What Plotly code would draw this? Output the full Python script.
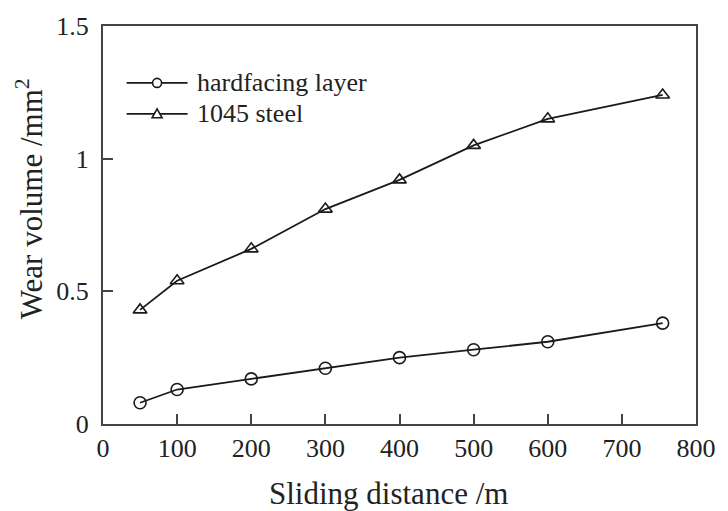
import plotly.graph_objects as go

distance = [50, 100, 200, 300, 400, 500, 600, 755]
hardfacing = [0.08, 0.13, 0.17, 0.21, 0.25, 0.28, 0.31, 0.38]
steel_1045 = [0.43, 0.54, 0.66, 0.81, 0.92, 1.05, 1.15, 1.24]
x_ticks = [0, 100, 200, 300, 400, 500, 600, 700, 800]
y_ticks = [0, 0.5, 1, 1.5]
y_labels = ["0", "0.5", "1", "1.5"]
series_names = ["hardfacing layer", "1045 steel"]

font = "Liberation Serif"
ink = "#1a1a1a"
fig = go.Figure()
fig.add_trace(go.Scatter(x=distance, y=hardfacing, mode="lines+markers", name=series_names[0],
                         line=dict(color=ink, width=1.8),
                         marker=dict(symbol="circle-open", size=12, color=ink, line=dict(width=1.6))))
fig.add_trace(go.Scatter(x=distance, y=steel_1045, mode="lines+markers", name=series_names[1],
                         line=dict(color=ink, width=1.8),
                         marker=dict(symbol="triangle-up-open", size=12, color=ink, line=dict(width=1.6))))

axis_common = dict(showline=True, linecolor="#444", linewidth=2, mirror=True,
                   ticks="inside", ticklen=10, tickwidth=1.5, tickcolor="#444",
                   showgrid=False, zeroline=False, ticklabeloverflow="allow",
                   tickfont=dict(family=font, size=26, color="#222"))
fig.update_xaxes(range=[0, 800], tickvals=x_ticks, **axis_common)
fig.update_yaxes(range=[0, 1.5], tickvals=y_ticks, ticktext=y_labels, ticklabelstandoff=7, **axis_common)

fig.add_annotation(text="Sliding distance /m", xref="paper", yref="paper",
                   x=0.481, y=-0.175, xanchor="center", yanchor="middle",
                   showarrow=False, font=dict(family=font, size=31, color="#222"))
fig.add_annotation(text="Wear volume /mm<sup>2</sup>", xref="paper", yref="paper",
                   x=-0.124, y=0.566, xanchor="center", yanchor="middle", textangle=-90,
                   showarrow=False, font=dict(family=font, size=31, color="#222"))

# legend drawn manually to reproduce the long line samples
leg_y = [0.857, 0.7794]
line_x0, line_x1, mark_x, text_x = 0.0398, 0.1426, 0.0912, 0.1559
for i, name in enumerate(series_names):
    fig.add_shape(type="line", xref="paper", yref="paper", x0=line_x0, x1=line_x1, y0=leg_y[i], y1=leg_y[i],
                  line=dict(color=ink, width=1.8))
    fig.add_annotation(text=name, xref="paper", yref="paper", x=text_x, y=leg_y[i],
                       xanchor="left", yanchor="middle", showarrow=False,
                       font=dict(family=font, size=26, color="#222"))
fig.add_shape(type="circle", xref="paper", yref="paper", xsizemode="pixel", ysizemode="pixel",
              xanchor=mark_x, yanchor=leg_y[0], x0=-4.5, x1=4.5, y0=-4.5, y1=4.5,
              line=dict(color=ink, width=1.6), fillcolor="white")
fig.add_shape(type="path", xref="paper", yref="paper", xsizemode="pixel", ysizemode="pixel",
              xanchor=mark_x, yanchor=leg_y[1], path="M -5,-4 L 5,-4 L 0,5 Z",
              line=dict(color=ink, width=1.6), fillcolor="white")

fig.update_layout(width=728, height=511, margin=dict(l=103, r=22, t=25, b=87),
                  plot_bgcolor="white", paper_bgcolor="white", showlegend=False)
fig.write_html("out.html")
